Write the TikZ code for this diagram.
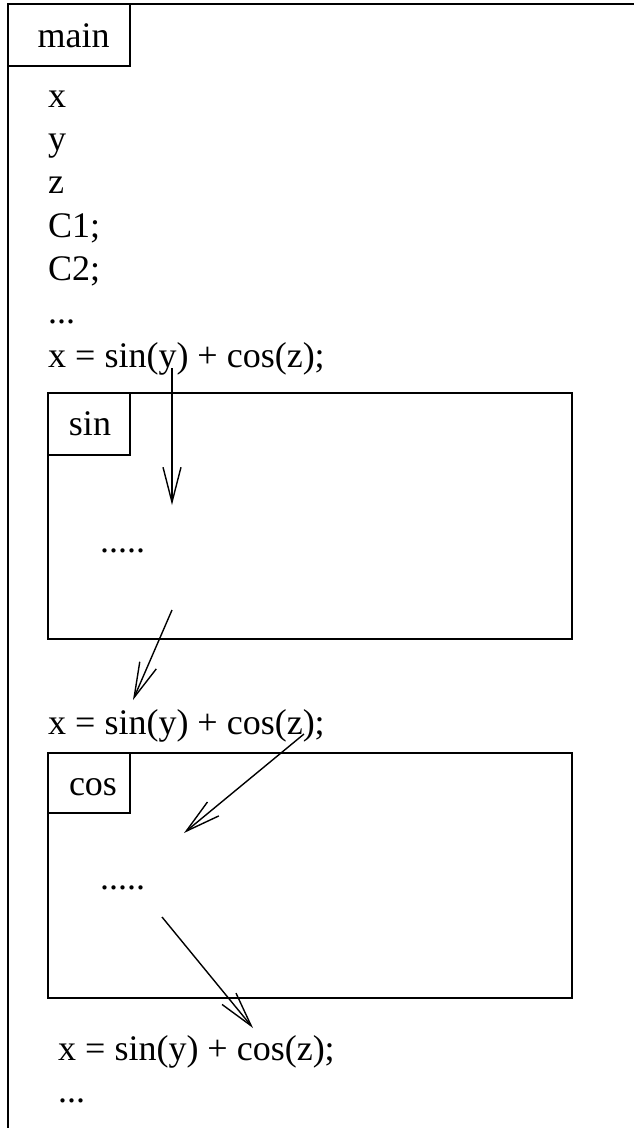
\documentclass[tikz,border=0pt]{standalone}
\usepackage{fontspec}
\setmainfont{Liberation Serif}
\usetikzlibrary{arrows.meta}
\begin{document}
\begin{tikzpicture}[x=1pt,y=-1pt,
  frame/.style={line width=1.7pt},
  code/.style={anchor=base west,inner sep=0pt,font=\fontsize{36}{43}\selectfont},
  tag/.style={anchor=base,font=\fontsize{36}{43}\selectfont,inner sep=0pt},
  flow/.style={line width=1.4pt,-{Straight Barb[length=35pt,width=18pt,line width=1.4pt]}}]
\useasboundingbox (0,0) rectangle (634,1128);
\clip (0,0) rectangle (634,1128);
\fill[white] (0,0) rectangle (634,1128);

% outer frame for main and its label tab
\draw[frame] (8,4) rectangle (700,1200);
\draw[frame] (8,4) rectangle (130,66);
\node[tag] (mainlbl) at (73.5,47) {main};

% declarations and statements in main
\node[code] (lx)  at (48,107) {x};
\node[code] (ly)  at (48,150) {y};
\node[code] (lz)  at (48,193) {z};
\node[code] (lc1) at (48,237) {C1;};
\node[code] (lc2) at (48,280) {C2;};
\node[code] (ldots) at (48,323) {...};
\node[code] (call1) at (48,367) {x = sin(y) + cos(z);};

% frame for sin
\draw[frame] (48,393) rectangle (572,639);
\draw[frame] (48,393) rectangle (130,455);
\node[tag] (sinlbl) at (90,435) {sin};
\node[code] (sinbody) at (100,552) {.....};

\node[code] (call2) at (48,734) {x = sin(y) + cos(z);};

% frame for cos
\draw[frame] (48,753) rectangle (572,998);
\draw[frame] (48,753) rectangle (130,813);
\node[tag] (coslbl) at (93,795) {cos};
\node[code] (cosbody) at (100,889) {.....};

\node[code] (call3) at (58,1060) {x = sin(y) + cos(z);};
\node[code] (tail) at (58,1102) {...};

% control flow
\coordinate (a1s) at (172,368);
\coordinate (a1e) at (172,505);
\coordinate (a2s) at (172,610);
\coordinate (a2e) at (133,700);
\coordinate (a3s) at (304,734);
\coordinate (a3e) at (184,833);
\coordinate (a4s) at (162,917);
\coordinate (a4e) at (253,1028);
\draw[flow] (a1s) -- (a1e);
\draw[flow] (a2s) -- (a2e);
\draw[flow] (a3s) -- (a3e);
\draw[flow] (a4s) -- (a4e);
\end{tikzpicture}
\end{document}
